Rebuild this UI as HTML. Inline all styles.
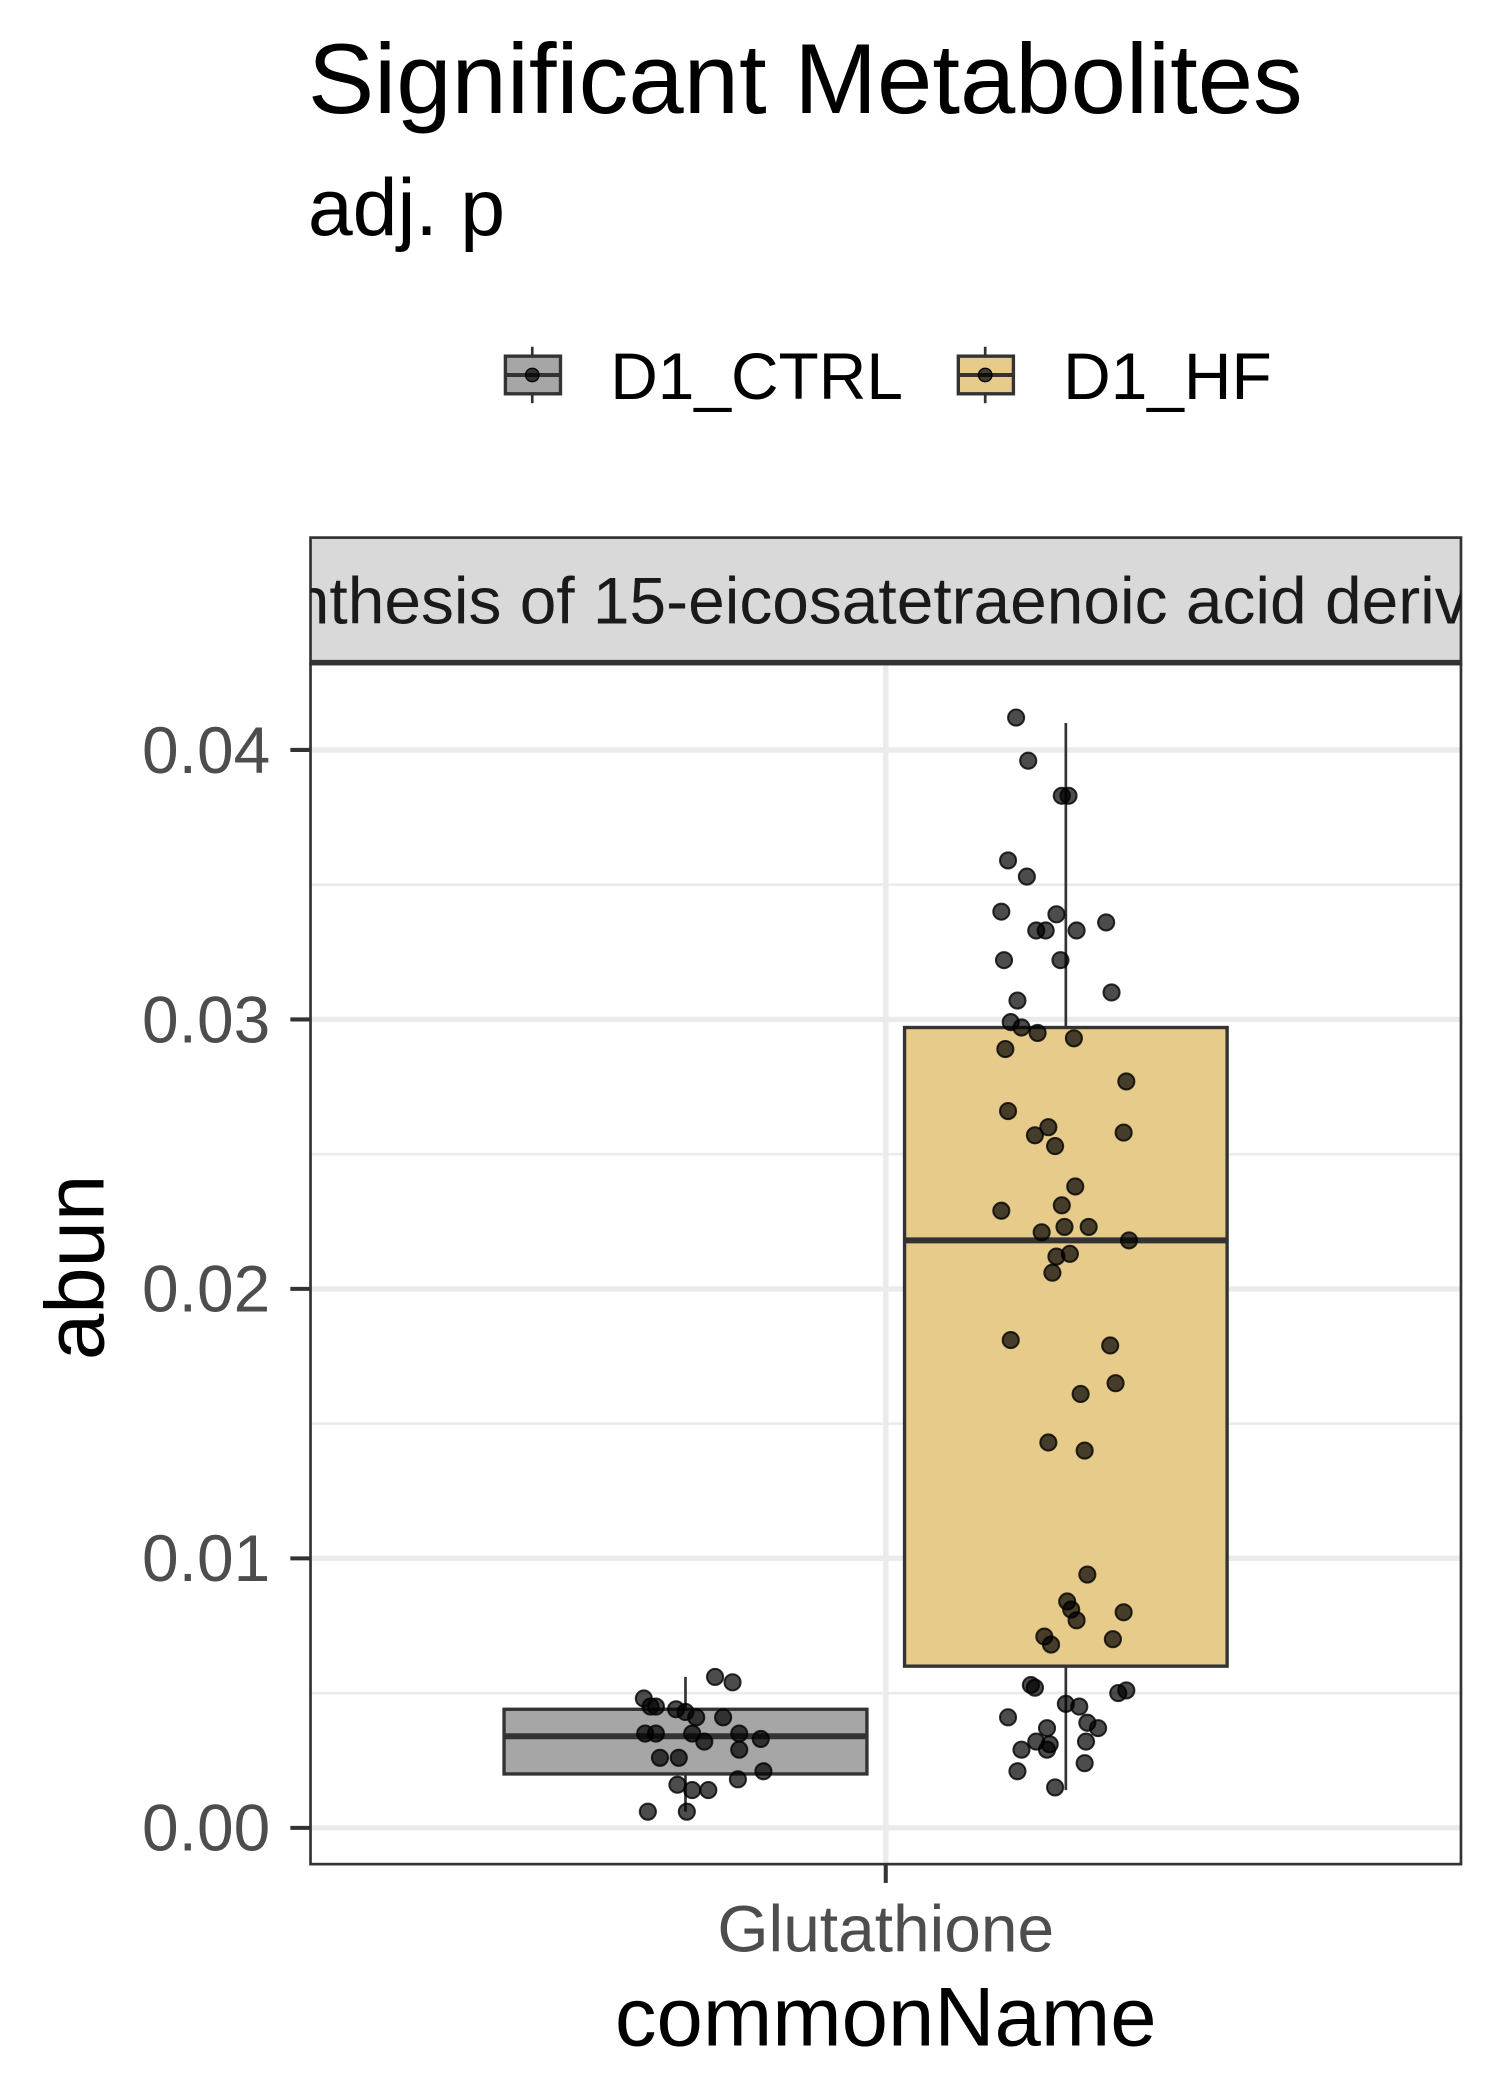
<!DOCTYPE html>
<html><head><meta charset="utf-8"><style>
html,body{margin:0;padding:0;background:#fff;}
svg{display:block;font-family:"Liberation Sans",Arial,sans-serif;}
</style></head><body>
<svg id="chart" width="1500" height="2100" viewBox="0 0 1116 1562.5" xmlns="http://www.w3.org/2000/svg">
<defs><clipPath id="stripclip"><rect x="231" y="400" width="856" height="94"/></clipPath></defs>
<text x="229" y="84" font-size="74" fill="#000">Significant Metabolites</text>
<text x="229" y="175" font-size="60" fill="#000">adj. p</text>
<g>
  <g>
    <line x1="396" y1="258" x2="396" y2="300" stroke="#333" stroke-width="2"/>
    <rect x="376" y="265" width="41" height="28" fill="#a6a6a6" stroke="#333" stroke-width="2.5"/>
    <line x1="376" y1="279" x2="417" y2="279" stroke="#333" stroke-width="3"/>
    <circle cx="396" cy="279" r="5" fill="#000" fill-opacity="0.7" stroke="#000"/>
    <text x="454" y="297" font-size="49" fill="#000">D1_CTRL</text>
  </g>
  <g>
    <line x1="733" y1="258" x2="733" y2="300" stroke="#333" stroke-width="2"/>
    <rect x="713" y="265" width="41" height="28" fill="#e6cb8a" stroke="#333" stroke-width="2.5"/>
    <line x1="713" y1="279" x2="754" y2="279" stroke="#333" stroke-width="3"/>
    <circle cx="733" cy="279" r="5" fill="#000" fill-opacity="0.7" stroke="#000"/>
    <text x="791" y="297" font-size="49" fill="#000">D1_HF</text>
  </g>
</g>
<g id="panel"></g>
<g>
  <rect x="231" y="400" width="856" height="94" fill="#d9d9d9" stroke="#333" stroke-width="2"/>
  <line x1="231" y1="493" x2="1087" y2="493" stroke="#333" stroke-width="4"/>
  <text clip-path="url(#stripclip)" x="659" y="464" font-size="49" fill="#1a1a1a" text-anchor="middle">Biosynthesis of 15-eicosatetraenoic acid derivatives</text>
</g>
<text x="659" y="1522" font-size="62" fill="#000" text-anchor="middle">commonName</text>
<text transform="translate(77,943) rotate(-90)" font-size="62" fill="#000" text-anchor="middle">abun</text>
</svg>
<script>
const yTicks=[0,0.01,0.02,0.03,0.04];
const yTickLabels=["0.00","0.01","0.02","0.03","0.04"];
const category=["Glutathione"];
const groups=["D1_CTRL","D1_HF"];
const boxQ1=[0.0020,0.0060];
const boxMedian=[0.0034,0.0218];
const boxQ3=[0.0044,0.0297];
const whiskerLow=[0.0006,0.0014];
const whiskerHigh=[0.0056,0.0410];
const ctrlValues=[0.0048,0.0045,0.0045,0.0044,0.0043,0.0041,0.0041,0.0056,0.0054,0.0035,0.0035,0.0035,0.0035,0.0033,0.0026,0.0026,0.0029,0.0032,0.0021,0.0018,0.0016,0.0014,0.0014,0.0006,0.0006];
const ctrlJitter=[-31,-26,-22,-7,0,8,28,22,35,-30,-22,5,40,56,-19,-5,40,14,58,39,-6,5,17,-28,1];
const hfValues=[0.0412,0.0396,0.0383,0.0383,0.0359,0.0353,0.0340,0.0339,0.0333,0.0333,0.0333,0.0336,0.0322,0.0322,0.0310,0.0307,0.0299,0.0297,0.0295,0.0293,0.0289,0.0277,0.0266,0.0260,0.0257,0.0253,0.0258,0.0238,0.0231,0.0229,0.0221,0.0223,0.0223,0.0218,0.0213,0.0212,0.0206,0.0181,0.0179,0.0165,0.0161,0.0143,0.0140,0.0094,0.0084,0.0081,0.0077,0.0080,0.0070,0.0071,0.0068,0.0053,0.0052,0.0051,0.0050,0.0046,0.0045,0.0041,0.0037,0.0039,0.0037,0.0032,0.0029,0.0031,0.0029,0.0032,0.0024,0.0021,0.0015];
const hfJitter=[-37,-28,-3,2,-43,-29,-48,-7,-22,-15,8,30,-46,-4,34,-36,-41,-33,-21,6,-45,45,-43,-13,-23,-8,43,7,-3,-48,-18,-1,17,47,3,-7,-10,-41,33,37,11,-13,14,16,1,4,8,43,35,-16,-11,-26,-23,45,39,0,10,-43,-14,16,24,-22,-33,-12,-14,15,14,-36,-8];
const NS="http://www.w3.org/2000/svg";
const P={x0:231,x1:1087,y0:494,y1:1387};
const centers=[510,793], halfW=[135,120];
function y(v){return 1360-v*20050;}
function mk(t,a,parent){const e=document.createElementNS(NS,t);for(const k in a)e.setAttribute(k,a[k]);parent.appendChild(e);return e;}
const panel=document.getElementById('panel');
mk('rect',{x:P.x0,y:P.y0,width:P.x1-P.x0,height:P.y1-P.y0,fill:'#fff'},panel);
for(let i=0;i<yTicks.length-1;i++){const g=mk('line',{x1:P.x0,x2:P.x1,y1:y((yTicks[i]+yTicks[i+1])/2),y2:y((yTicks[i]+yTicks[i+1])/2),stroke:'#ebebeb','stroke-width':2},panel);

}
yTicks.forEach((t,i)=>{
 const g=mk('line',{x1:P.x0,x2:P.x1,y1:y(t),y2:y(t),stroke:'#ebebeb','stroke-width':4},panel);
 
 
 const tk=mk('line',{x1:216,x2:231,y1:y(t),y2:y(t),stroke:'#333','stroke-width':3},panel);
 
 
 const lb=mk('text',{x:201,y:y(t)+17,'font-size':49,fill:'#4d4d4d','text-anchor':'end'},panel);
 lb.textContent=yTickLabels[i];
 
 
});
const vg=mk('line',{x1:659,x2:659,y1:P.y0,y2:P.y1,stroke:'#ebebeb','stroke-width':4},panel);


const fills=['#a6a6a6','#e6cb8a'];
for(let g=0;g<2;g++){
 const c=centers[g],w=halfW[g];
 const wl=mk('line',{x1:c,x2:c,y1:y(whiskerLow[g]),y2:y(whiskerHigh[g]),stroke:'#333','stroke-width':2},panel);
 
 
 const b=mk('rect',{x:c-w,y:y(boxQ3[g]),width:2*w,height:y(boxQ1[g])-y(boxQ3[g]),fill:fills[g],stroke:'#333','stroke-width':2.5},panel);
 
 
 const m=mk('line',{x1:c-w,x2:c+w,y1:y(boxMedian[g]),y2:y(boxMedian[g]),stroke:'#333','stroke-width':4.5},panel);
 
 
}
[[ctrlValues,ctrlJitter,0],[hfValues,hfJitter,1]].forEach(([vals,jit,g])=>{
 vals.forEach((v,i)=>{
  const p=mk('circle',{cx:centers[g]+jit[i],cy:y(v),r:6,fill:'#000','fill-opacity':0.7,stroke:'#000','stroke-opacity':0.8,'stroke-width':1.5},panel);
  
  
 });
});
mk('rect',{x:P.x0,y:P.y0,width:P.x1-P.x0,height:P.y1-P.y0,fill:'none',stroke:'#333','stroke-width':2},panel);
const xt=mk('line',{x1:659,x2:659,y1:P.y1,y2:P.y1+14,stroke:'#333','stroke-width':3},panel);


const xl=mk('text',{x:659,y:1452,'font-size':49,fill:'#4d4d4d','text-anchor':'middle'},panel);
xl.textContent=category[0];


</script>
</body></html>
